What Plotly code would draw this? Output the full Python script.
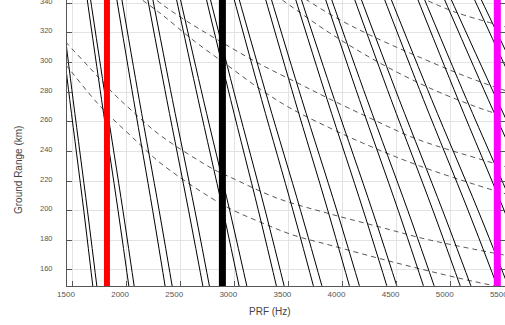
import plotly.graph_objects as go

# ---------------- data ----------------
# Ground ranges (km) at which each transmit-interference edge is sampled
edge_ranges = [350, 275, 200, 140]

# PRF (Hz) of the left edge of every interference band at the ranges above
band_left_prf = [
    [1354, 1479, 1609, 1707],
    [1626, 1773, 1926, 2043],
    [1897, 2069, 2246, 2381],
    [2181, 2376, 2578, 2733],
    [2444, 2666, 2896, 3071],
    [2718, 2966, 3223, 3419],
    [2971, 3252, 3543, 3765],
    [3260, 3558, 3865, 4100],
    [3535, 3858, 4193, 4449],
    [3809, 4156, 4516, 4790],
    [4075, 4449, 4837, 5133],
    [4349, 4748, 5162, 5478],
    [4655, 5068, 5495, 5821],
    [4898, 5347, 5813, 6168],
    [5172, 5647, 6138, 6513],
]
# PRF (Hz) of the right edge of every interference band
band_right_prf = [
    [1382, 1510, 1643, 1745],
    [1656, 1811, 1971, 2093],
    [1943, 2121, 2306, 2447],
    [2227, 2428, 2636, 2794],
    [2479, 2714, 2958, 3144],
    [2753, 3015, 3286, 3492],
    [3016, 3309, 3613, 3845],
    [3312, 3624, 3948, 4194],
    [3586, 3925, 4276, 4543],
    [3863, 4227, 4604, 4891],
    [4135, 4524, 4926, 5234],
    [4409, 4824, 5254, 5581],
    [4715, 5147, 5594, 5935],
    [4958, 5426, 5911, 6281],
    [5232, 5726, 6237, 6626],
]

# Nadir-return curves (dashed): PRF (Hz) and ground range (km)
nadir1_prf = [1389, 1451, 1759, 2036, 2341, 2913, 3237, 3542, 3883, 4502, 5112, 5546]
nadir1_rng = [303.0, 297.6, 270.6, 251.0, 230.8, 203.2, 192.4, 183.6, 176.8, 164.7, 153.9, 147.2]

nadir2_prf = [1389, 1451, 1666, 1879, 2036, 2313, 2821, 2960, 3394, 3856, 4345, 4807, 5546]
nadir2_rng = [318.5, 313.1, 296.2, 279.4, 268.6, 251.0, 227.4, 222.7, 208.5, 198.4, 189.0, 180.2, 169.4]

nadir3_prf = [2082, 2313, 2618, 2932, 3237, 3514, 3883, 4188, 4715, 5389, 5546]
nadir3_rng = [345.5, 333.3, 315.1, 298.3, 282.1, 269.3, 255.8, 245.6, 230.1, 213.9, 210.6]

nadir4_prf = [2221, 2341, 2544, 2849, 3237, 3606, 3883, 4253, 4687, 5389, 5546]
nadir4_rng = [345.5, 338.7, 328.6, 315.1, 298.9, 285.4, 275.3, 262.5, 248.3, 232.2, 228.8]

nadir5_prf = [3375, 3468, 3883, 4345, 4807, 5241, 5546]
nadir5_rng = [345.5, 340.8, 319.8, 299.6, 282.7, 269.9, 262.5]

nadir6_prf = [3588, 3671, 3930, 4253, 4687, 5177, 5546]
nadir6_rng = [346.1, 342.1, 330.6, 318.5, 304.3, 289.5, 280.0]

nadir7_prf = [4715, 5038, 5546]
nadir7_rng = [344.1, 334.0, 323.2]

# Selected PRFs (vertical markers)
marker_prf = [1823, 2890, 5431]
marker_colors = ["#ff0000", "#000000", "#ff00ff"]
marker_widths = [6, 7, 7]
marker_span = [140, 350]

x_ticks = [1500, 2000, 2500, 3000, 3500, 4000, 4500, 5000, 5500]
y_ticks = [160, 180, 200, 220, 240, 260, 280, 300, 320, 340]

# ---------------- figure ----------------
fig = go.Figure()

nadirs = [
    (nadir1_prf, nadir1_rng), (nadir2_prf, nadir2_rng), (nadir3_prf, nadir3_rng),
    (nadir4_prf, nadir4_rng), (nadir5_prf, nadir5_rng), (nadir6_prf, nadir6_rng),
    (nadir7_prf, nadir7_rng),
]
for px_, ry in nadirs:
    fig.add_trace(go.Scatter(
        x=px_, y=ry, mode="lines", line_shape="spline",
        line=dict(color="#444444", width=0.9, dash="5px,4px"),
        hoverinfo="skip", showlegend=False))

for edges in (band_left_prf, band_right_prf):
    for row in edges:
        fig.add_trace(go.Scatter(
            x=row, y=edge_ranges, mode="lines", line_shape="spline",
            line=dict(color="#000000", width=1.0),
            hoverinfo="skip", showlegend=False))

for i, (p, c, w) in enumerate(zip(marker_prf, marker_colors, marker_widths)):
    fig.add_trace(go.Scatter(
        x=[p, p], y=marker_span, mode="lines",
        line=dict(color=c, width=w),
        yaxis="y2" if i == 2 else "y",
        hoverinfo="skip", showlegend=False))

FONT = "Liberation Sans, Arial, sans-serif"
tick_font = dict(family=FONT, size=8, color="#555555")

W, H = 505, 325
L, B = 67, 39
pw, ph = W - L, H - B

fig.update_layout(
    width=W, height=H,
    margin=dict(l=L, r=0, t=0, b=B, autoexpand=False),
    paper_bgcolor="white", plot_bgcolor="white",
    xaxis=dict(
        range=[1453.8, 5502], tickvals=x_ticks, ticktext=[str(v) for v in x_ticks],
        ticks="inside", ticklen=5, tickcolor="#555555", tickwidth=1,
        showline=True, linecolor="#555555", linewidth=1,
        showgrid=True, gridcolor="#e3e3e3", gridwidth=1,
        zeroline=False, tickfont=tick_font, ticklabelshift=-6,
        ticklabeloverflow="allow", automargin=False,
    ),
    yaxis=dict(
        range=[149.2, 342.1], tickvals=y_ticks, ticktext=[str(v) for v in y_ticks],
        ticks="inside", ticklen=5, tickcolor="#555555", tickwidth=1,
        showline=True, linecolor="#555555", linewidth=1,
        showgrid=True, gridcolor="#e3e3e3", gridwidth=1,
        zeroline=False, tickfont=dict(tick_font, size=7.5),
        ticklabelshift=-2, ticklabelstandoff=12, ticklabeloverflow="allow",
        automargin=False,
    ),
    yaxis2=dict(
        range=[149.2, 342.1], overlaying="y", side="right", tickvals=y_ticks,
        ticks="inside", ticklen=5, tickcolor="#555555", showticklabels=False,
        showgrid=False, showline=False, zeroline=False, automargin=False,
    ),
    annotations=[
        dict(text="PRF (Hz)", x=(270 - L) / pw, y=-(311 - (H - B)) / ph, xref="paper", yref="paper",
             xanchor="center", yanchor="middle", showarrow=False,
             font=dict(family=FONT, size=10, color="#444444")),
        dict(text="Ground Range (km)", x=(18 - L) / pw, y=(H - B - 170) / ph, xref="paper", yref="paper",
             xanchor="center", yanchor="middle", textangle=-90, showarrow=False,
             font=dict(family=FONT, size=10, color="#444444")),
    ],
)

fig.write_html(
    "out.html",
    config={"displayModeBar": False, "staticPlot": True},
    post_script="document.body.style.margin='0';document.body.style.overflow='hidden';",
)
